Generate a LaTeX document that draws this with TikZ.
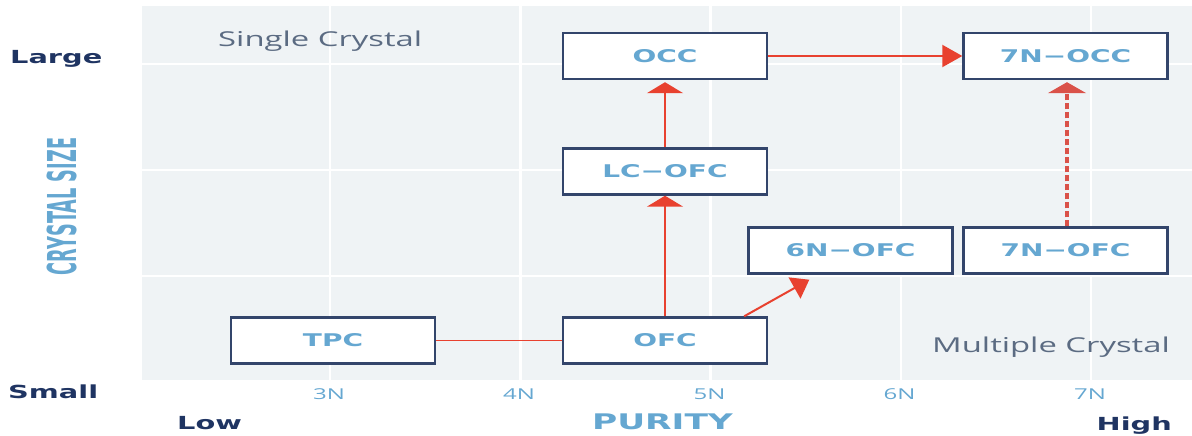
\documentclass[tikz,border=0pt]{standalone}
\usepackage{fontspec}
\usetikzlibrary{arrows.meta,calc}
\newfontfamily\bfnt{DejaVu Sans}[FakeStretch=1.6]
\newfontfamily\rfnt{Open Sans}[FakeStretch=1.6]
\newfontfamily\cfnt{DejaVu Sans}
\definecolor{navy}{HTML}{1F3462}
\definecolor{boxline}{HTML}{33456B}
\definecolor{lblue}{HTML}{65A7D1}
\definecolor{graytxt}{HTML}{5B6B82}
\definecolor{plotbg}{HTML}{EFF3F5}
\definecolor{redline}{HTML}{E8412F}
\definecolor{reddash}{HTML}{DA5249}
\begin{document}
\begin{tikzpicture}[x=1pt,y=-1pt,
  cbox/.style={draw=boxline, line width=2.4pt, fill=white, minimum width=204pt, minimum height=46pt, inner sep=0pt,
    text=lblue, font=\bfnt\bfseries\fontsize{17.5}{20}\selectfont},
  axlbl/.style={text=navy, inner sep=0pt, font=\bfnt\bfseries\fontsize{18}{21}\selectfont},
  regionlbl/.style={text=graytxt, inner sep=0pt, font=\rfnt\fontsize{20.5}{24}\selectfont},
  ticklbl/.style={text=lblue, inner sep=0pt, anchor=base, font=\rfnt\fontsize{15}{18}\selectfont},
  gridline/.style={draw=white, line width=2.5pt},
  arrV/.style={draw=redline, line width=2pt, -{Triangle[length=11pt,width=36pt]}},
  arrH/.style={draw=redline, line width=2pt, -{Triangle[length=20pt,width=22pt]}},
  arrD/.style={draw=redline, line width=2pt, -{Triangle[length=17pt,width=24pt]}},
  plainln/.style={draw=redline, line width=1.5pt}
]
\useasboundingbox (0,0) rectangle (1192,436);
% plot background and grid
\fill[plotbg] (142,6) rectangle (1192,380);
\foreach \xx in {330,520.25,710.5,900.75,1091} \draw[gridline] (\xx,6) -- (\xx,380);
\foreach \yy in {64,170,276} \draw[gridline, line width=2pt] (142,\yy) -- (1192,\yy);

% region labels
\node[regionlbl, anchor=base west] (single) at (218,46.5) {Single Crystal};
\node[regionlbl, anchor=base east] (multiple) at (1170,352) {Multiple Crystal};

% axis labels
\node[axlbl, anchor=base west] (large) at (10,63.5) {Large};
\node[axlbl, anchor=base west] (small) at (8,398) {Small};
\node[axlbl, anchor=base west] (low) at (177,429) {Low};
\node[axlbl, anchor=base east] (high) at (1172,430) {High};
\node[text=lblue, inner sep=0pt, anchor=base, font=\bfnt\bfseries\fontsize{21.5}{24}\selectfont] (purity) at (662.5,429) {PURITY};
\node[rotate=90, text=lblue, inner sep=0pt, font=\cfnt\bfseries\fontsize{17.7}{20}\selectfont] (crystal) at (62.5,206.5) {\scalebox{1}[2.25]{CRYSTAL SIZE}};

% tick labels
\node[ticklbl] (t3) at (329,399) {3N};
\node[ticklbl] (t4) at (519,399) {4N};
\node[ticklbl] (t5) at (709.5,399) {5N};
\node[ticklbl] (t6) at (899.5,399) {6N};
\node[ticklbl] (t7) at (1090,399) {7N};

% boxes
\node[cbox] (occ) at (665,56) {OCC};
\node[cbox] (sevenocc) at (1065.5,56) {7N−OCC};
\node[cbox] (lcofc) at (665,171.5) {LC−OFC};
\node[cbox] (sixofc) at (850.5,250.5) {6N−OFC};
\node[cbox] (sevenofc) at (1065.5,250.5) {7N−OFC};
\node[cbox] (tpc) at (333,340.5) {TPC};
\node[cbox] (ofc) at (665,340.5) {OFC};

% connectors
\draw[plainln] (tpc.east) -- (ofc.west);
\draw[arrV] (ofc.north) -- (lcofc.south);
\draw[arrV, shorten >=2pt] (lcofc.north) -- (occ.south);
\draw[arrH] (occ.east) -- (sevenocc.west);
\draw[arrD] ([xshift=-24pt]ofc.north east) -- ([xshift=62pt,yshift=-5pt]sixofc.south west);
\draw[draw=reddash, line width=3.2pt, dash pattern=on 6pt off 3pt, -{Triangle[length=11pt,width=38pt]}, shorten >=2pt]
  ([xshift=1.5pt]sevenofc.north) -- ([xshift=1.5pt]sevenocc.south);
\end{tikzpicture}
\end{document}
